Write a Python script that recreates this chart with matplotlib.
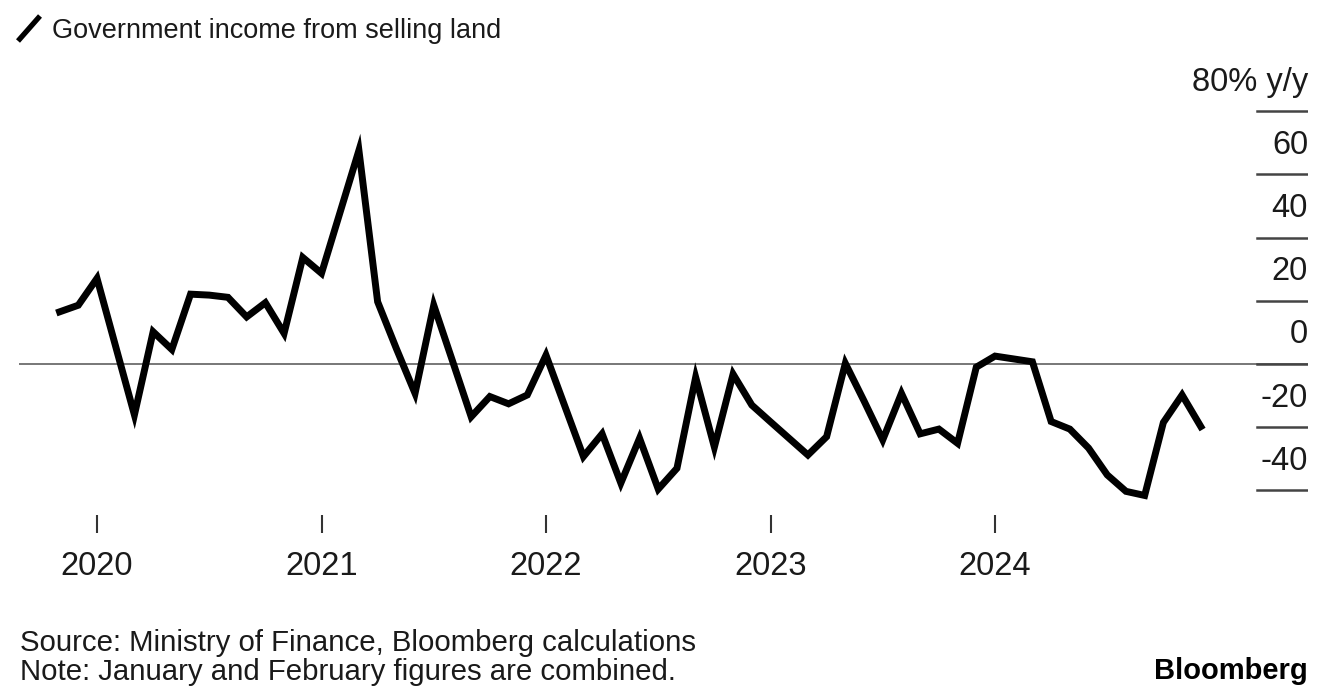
import matplotlib
matplotlib.use("Agg")
import matplotlib.pyplot as plt
from matplotlib.lines import Line2D

plt.rcParams['font.family'] = ['Liberation Sans', 'DejaVu Sans']

# monthly y/y change, Jan and Feb combined (so no January point)
months = ["2019-10", "2019-11", "2019-12",
          "2020-02", "2020-03", "2020-04", "2020-05", "2020-06", "2020-07",
          "2020-08", "2020-09", "2020-10", "2020-11", "2020-12",
          "2021-02", "2021-03", "2021-04", "2021-05", "2021-06", "2021-07",
          "2021-08", "2021-09", "2021-10", "2021-11", "2021-12",
          "2022-02", "2022-03", "2022-04", "2022-05", "2022-06", "2022-07",
          "2022-08", "2022-09", "2022-10", "2022-11", "2022-12",
          "2023-02", "2023-03", "2023-04", "2023-05", "2023-06", "2023-07",
          "2023-08", "2023-09", "2023-10", "2023-11", "2023-12",
          "2024-02", "2024-03", "2024-04", "2024-05", "2024-06", "2024-07",
          "2024-08", "2024-09", "2024-10", "2024-11"]
values = [16.5, 18.6, 27.1,
          -16.1, 10.2, 4.6, 22.1, 21.8, 21.1,
          14.9, 19.4, 9.7, 33.7, 28.7,
          67.6, 19.7, 4.9, -9.3, 18.6, 1.0,
          -16.7, -10.3, -12.6, -9.8, 2.8,
          -29.3, -22.1, -37.7, -23.5, -39.6, -33.0,
          -4.2, -26.3, -3.2, -13.0, -18.3,
          -28.8, -23.0, 0.2, -11.7, -24.0, -9.3,
          -22.1, -20.6, -25.1, -1.0, 2.5,
          0.7, -18.2, -20.6, -26.6, -35.1, -40.3,
          -41.6, -18.5, -9.8, -19.8]
year_ticks = [2020, 2021, 2022, 2023, 2024]
y_ticks = [80, 60, 40, 20, 0, -20, -40]

title = "Government income from selling land"
source = "Source: Ministry of Finance, Bloomberg calculations"
note = "Note: January and February figures are combined."

# month-end positions in decimal years
xs = [int(m[:4]) + int(m[5:]) / 12 for m in months]

W, H = 1321, 699
fig = plt.figure(figsize=(W / 100, H / 100), dpi=100)

# layout in pixels
left, right, top, bottom = 19, 1308, 100, 533
x2020, px_year = 97, 224.5
y0, px_unit = 364, 3.16

ax = fig.add_axes([left / W, (H - bottom) / H, (right - left) / W, (bottom - top) / H])
ax.set_xlim(2020 + (left - x2020) / px_year, 2020 + (right - x2020) / px_year)
ax.set_ylim((y0 - bottom) / px_unit, (y0 - top) / px_unit)
for s in ax.spines.values():
    s.set_visible(False)

ax.axhline(0, color='#777777', lw=1.4, zorder=1)
tick_start = (1257 - left) / (right - left)
for v in y_ticks:
    ax.axhline(v, xmin=tick_start, xmax=1, color='#444444', lw=1.8, zorder=1)
    lab = "80% y/y" if v == 80 else str(v)
    ax.annotate(lab, xy=(1, v), xycoords=('axes fraction', 'data'),
                xytext=(0, 21), textcoords='offset points',
                ha='right', va='center', fontsize=23.5, color='#1a1a1a')

ax.plot(xs, values, color='black', lw=5, solid_joinstyle='miter', zorder=3)

ax.set_yticks([])
ax.set_xticks(year_ticks)
ax.set_xticklabels([str(y) for y in year_ticks])
ax.tick_params(axis='x', direction='in', length=13, width=1.5, color='#333333',
               pad=13, labelsize=23.5, labelcolor='#1a1a1a')

# header
fig.add_artist(Line2D([18 / W, 40 / W], [1 - 41 / H, 1 - 16 / H], lw=3.8, color='black',
                      solid_capstyle='butt'))
fig.text(52 / W, 1 - 31 / H, title, ha='left', va='center', fontsize=19.5, color='#1a1a1a')

# footer
fig.text(20 / W, 1 - 643 / H, source, ha='left', va='center', fontsize=21.2, color='#1a1a1a')
fig.text(20 / W, 1 - 672 / H, note, ha='left', va='center', fontsize=21.2, color='#1a1a1a')
fig.text(1308 / W, 1 - 671 / H, "Bloomberg", ha='right', va='center', fontsize=21,
         fontweight='bold', color='black')

fig.savefig("out.png", dpi=100)
